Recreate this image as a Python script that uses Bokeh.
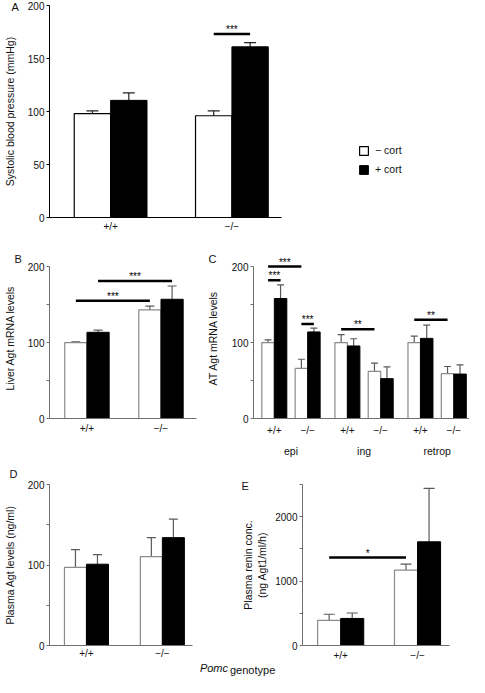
from bokeh.plotting import figure
from bokeh.models import (Range1d, FixedTicker, LinearAxis, Whisker, TeeHead,
                          ColumnDataSource, Legend, LegendItem, Title)
from bokeh.layouts import column, row
from bokeh.embed import file_html
from bokeh.resources import INLINE
from bokeh.core.properties import value

FONT = "Liberation Sans"

# ---------------- data ----------------
genotypes = ["+/+", "\u2212/\u2212"]
treatments = ["\u2212 cort", "+ cort"]

# A: systolic blood pressure (mmHg)
a_minus = [98, 96]
a_minus_err = [2.5, 4.5]
a_plus = [110.5, 161]
a_plus_err = [7, 4]
# significance: (pair_from, treat_from, pair_to, treat_to, y, label)
a_sig = [(1, 0, 1, 1, 173, "***")]

# B: liver Agt mRNA levels
b_minus = [100, 143]
b_minus_err = [1, 5]
b_plus = [113.5, 157]
b_plus_err = [3, 17.5]
b_sig = [(0, 0, 1, 0, 155, "***"), (0, 1, 1, 1, 181, "***")]

# C: AT Agt mRNA levels (pairs: epi +/+, epi -/-, ing +/+, ing -/-, retrop +/+, retrop -/-)
c_groups = ["epi", "ing", "retrop"]
c_minus = [100, 66, 100, 62, 100, 59]
c_minus_err = [3.5, 12, 10.5, 11, 8.5, 9.5]
c_plus = [158, 114, 95.5, 52.5, 105.5, 58.5]
c_plus_err = [18, 5, 9.5, 15.5, 17.5, 12]
c_sig = [(0, 0, 1, 0, 200, "***"), (0, 0, 0, 1, 182, "***"),
         (1, 0, 1, 1, 124.5, "***"), (2, 0, 3, 0, 117.5, "**"),
         (4, 0, 5, 0, 130, "**")]

# D: plasma Agt levels (ng/ml)
d_minus = [97, 110.5]
d_minus_err = [22, 23.5]
d_plus = [101, 134]
d_plus_err = [12, 23]
d_sig = []

# E: plasma renin conc. (ng Agt1/ml/h)
e_minus = [390, 1170]
e_minus_err = [95, 95]
e_plus = [420, 1610]
e_plus_err = [85, 830]
e_sig = [(0, 0, 1, 0, 1365, "*")]

y_ticks_200 = [0, 50, 100, 150, 200]
y_ticks_2500 = [0, 500, 1000, 1500, 2000, 2500]


def make_panel(width, height, borders, xr, yr, centers, xlabels, yticks, shown,
               ylabel, minus, minus_err, plus, plus_err, sig, bw, cap, dark,
               x_standoff, ylabel_standoff, x_bounds=None):
    l, r, t, b = borders
    axis_col = "#000000" if dark else "#6f6f6f"
    white_line = "#000000" if dark else "#8a8a8a"
    err_col = "#222222" if dark else "#5a5a5a"
    p = figure(width=width, height=height, x_range=Range1d(*xr), y_range=Range1d(*yr),
               output_backend="svg", toolbar_location=None,
               min_border_left=l, min_border_right=r, min_border_top=t, min_border_bottom=b)
    p.grid.visible = False
    p.outline_line_color = None

    ya = p.yaxis[0]
    ya.ticker = FixedTicker(ticks=yticks)
    ya.bounds = (yticks[0], yticks[-1])
    ya.major_label_overrides = {tk: (str(tk) if tk in shown else "") for tk in yticks}
    ya.major_tick_out = 3
    ya.major_tick_in = 0
    ya.minor_tick_line_color = None
    ya.axis_line_color = axis_col
    ya.major_tick_line_color = axis_col
    ya.major_label_standoff = 2
    ya.major_label_text_font = FONT
    ya.major_label_text_font_size = "10px"
    ya.major_label_text_color = "#111111"
    ya.axis_label = ylabel
    ya.axis_label_text_font = FONT
    ya.axis_label_text_font_size = "10.5px"
    ya.axis_label_text_font_style = "normal"
    ya.axis_label_text_color = "#111111"
    ya.axis_label_standoff = ylabel_standoff

    xa = p.xaxis[0]
    xa.ticker = FixedTicker(ticks=list(centers))
    if x_bounds is not None:
        xa.bounds = x_bounds
    xa.major_label_overrides = {c: lab for c, lab in zip(centers, xlabels)}
    xa.major_tick_out = 0
    xa.major_tick_in = 0
    xa.minor_tick_line_color = None
    xa.axis_line_color = axis_col
    xa.major_label_standoff = x_standoff
    xa.major_label_text_font = FONT
    xa.major_label_text_font_size = "10px"
    xa.major_label_text_color = "#111111"

    wx = [c - bw / 2 for c in centers]
    bx = [c + bw / 2 for c in centers]
    src_w = ColumnDataSource(dict(x=wx, top=minus, upper=[m + e for m, e in zip(minus, minus_err)]))
    src_b = ColumnDataSource(dict(x=bx, top=plus, upper=[m + e for m, e in zip(plus, plus_err)]))
    rw = p.vbar(x="x", top="top", bottom=0, width=bw, source=src_w,
                fill_color="white", line_color=white_line, line_width=1.2)
    rb = p.vbar(x="x", top="top", bottom=0, width=bw, source=src_b,
                fill_color="black", line_color="black", line_width=1)
    for src in (src_w, src_b):
        p.add_layout(Whisker(source=src, base="x", lower="top", upper="upper",
                             dimension="height", line_color=err_col, line_width=1.2,
                             lower_head=None,
                             upper_head=TeeHead(size=cap, line_color=err_col, line_width=1.2)))
    if sig:
        x0 = [centers[s[0]] + (s[1] - 0.5) * bw for s in sig]
        x1 = [centers[s[2]] + (s[3] - 0.5) * bw for s in sig]
        ss = ColumnDataSource(dict(x0=x0, x1=x1, y=[s[4] for s in sig],
                                   xm=[(a + c) / 2 for a, c in zip(x0, x1)],
                                   lab=[s[5] for s in sig]))
        p.segment(x0="x0", y0="y", x1="x1", y1="y", source=ss,
                  line_width=2.5, line_color="black")
        p.text(x="xm", y="y", text="lab", source=ss, text_font=value(FONT),
               text_font_size="10px", text_align="center", text_baseline="middle",
               y_offset=-4.5, text_color="black")
    return p, rw, rb


def panel_letter(p, txt, offset, standoff):
    p.add_layout(Title(text=txt, align="left", offset=offset, standoff=standoff,
                       text_font=FONT, text_font_size="11px", text_font_style="normal",
                       text_color="#111111"), "above")


pair_centers = list(range(len(genotypes)))

# ---------------- A (frame extended to the right to host the legend) ----------------
pA, rwA, rbA = make_panel(469, 240, (43, 0, 5, 23), (-0.504, 2.959), (0, 200),
                          pair_centers, genotypes, y_ticks_200, y_ticks_200,
                          "Systolic blood pressure (mmHg)", a_minus, a_minus_err,
                          a_plus, a_plus_err, a_sig, 0.3, 12, True, 3, 9,
                          x_bounds=(-0.504, 1.407))
panel_letter(pA, "A", -38, -15)
legend = Legend(items=[LegendItem(label=treatments[0], renderers=[rwA]),
                       LegendItem(label=treatments[1], renderers=[rbA])],
                location=(309, 42), padding=0, margin=0, spacing=7,
                glyph_width=11, glyph_height=11, label_height=11, label_standoff=6,
                label_text_font=FONT, label_text_font_size="10.5px",
                label_text_color="#111111",
                border_line_color=None, background_fill_alpha=0)
pA.add_layout(legend)

# ---------------- B ----------------
pB, _, _ = make_panel(203, 219, (43, 7, 17, 34), (-0.506, 1.48), (0, 212),
                      pair_centers, genotypes, y_ticks_200, [0, 100, 200],
                      "Liver Agt mRNA levels", b_minus, b_minus_err,
                      b_plus, b_plus_err, b_sig, 0.3, 9, False, 4, 9)
panel_letter(pB, "B", -35, -15)

# ---------------- C ----------------
c_pair_gap = 0.456
c_centers = [g + k * c_pair_gap for g in range(len(c_groups)) for k in range(len(genotypes))]
c_xlabels = [genotypes[k] for g in range(len(c_groups)) for k in range(len(genotypes))]
pC, _, _ = make_panel(266, 219, (46, 0, 17, 34), (-0.285, 2.671), (0, 212),
                      c_centers, c_xlabels, y_ticks_200, [0, 100, 200],
                      "AT Agt mRNA levels", c_minus, c_minus_err,
                      c_plus, c_plus_err, c_sig, 0.171, 7, False, 6, 10)
g_centers = [g + c_pair_gap / 2 for g in range(len(c_groups))]
gax = LinearAxis(ticker=FixedTicker(ticks=g_centers),
                 major_label_overrides={c: lab for c, lab in zip(g_centers, c_groups)},
                 axis_line_color=None, major_tick_line_color=None,
                 minor_tick_line_color=None, major_label_standoff=0,
                 major_label_text_font=FONT, major_label_text_font_size="10.5px",
                 major_label_text_color="#111111")
pC.add_layout(gax, "below")
panel_letter(pC, "C", -45, -15)

# ---------------- D ----------------
pD, _, _ = make_panel(228, 218, (45, 36, 25, 31), (-0.487, 1.397), (0, 200),
                      pair_centers, genotypes, y_ticks_200, [0, 100, 200],
                      "Plasma Agt levels (ng/ml)", d_minus, d_minus_err,
                      d_plus, d_plus_err, d_sig, 0.29, 9, False, 2, 9)
panel_letter(pD, "D", -40, 10)
pD.add_layout(Title(text="Pomc", align="right", offset=-35.5, standoff=0,
                    vertical_align="top", text_font=FONT, text_font_size="11px",
                    text_font_style="italic", text_color="#111111"), "below")

# ---------------- E ----------------
pE, _, _ = make_panel(241, 218, (74, 20, 25, 31), (-0.497, 1.416), (0, 2500),
                      pair_centers, genotypes, y_ticks_2500, [0, 1000, 2000],
                      "Plasma renin conc.\n(ng Agt1/ml/h)", e_minus, e_minus_err,
                      e_plus, e_plus_err, e_sig, 0.3, 11, False, 4, 4)
panel_letter(pE, "E", -61, -15)
pE.add_layout(Title(text="genotype", align="left", offset=-72.5, standoff=0,
                    vertical_align="top", text_font=FONT, text_font_size="11px",
                    text_font_style="normal", text_color="#111111"), "below")

layout = column(pA, row(pB, pC), row(pD, pE))
open("out.html", "w").write(file_html(layout, INLINE))
